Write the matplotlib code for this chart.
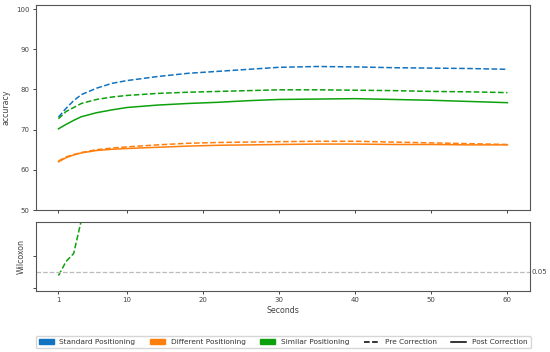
import numpy as np
import matplotlib.pyplot as plt
from matplotlib.patches import Patch
from matplotlib.lines import Line2D

secs = [1, 2, 3, 4, 6, 8, 10, 14, 18, 22, 26, 30, 35, 40, 45, 50, 55, 60]

standard_pre = [73.1, 75.3, 77.2, 78.7, 80.3, 81.5, 82.2, 83.2, 84.0, 84.5, 85.0, 85.5, 85.7, 85.6, 85.4, 85.3, 85.2, 85.0]
different_pre = [62.2, 63.2, 63.8, 64.3, 65.0, 65.4, 65.7, 66.2, 66.6, 66.8, 66.9, 67.0, 67.1, 67.1, 66.9, 66.7, 66.5, 66.3]
different_post = [62.0, 63.0, 63.7, 64.2, 64.8, 65.1, 65.3, 65.6, 65.9, 66.1, 66.2, 66.3, 66.4, 66.4, 66.3, 66.3, 66.2, 66.2]
similar_pre = [72.7, 74.5, 75.5, 76.5, 77.5, 78.1, 78.5, 79.0, 79.3, 79.5, 79.7, 79.9, 79.9, 79.8, 79.7, 79.5, 79.4, 79.2]
similar_post = [70.2, 71.3, 72.3, 73.2, 74.2, 74.9, 75.5, 76.1, 76.5, 76.8, 77.2, 77.5, 77.6, 77.7, 77.5, 77.3, 77.0, 76.7]

wil_secs = [1, 2, 3, 4]
wil_p = [0.038, 0.082, 0.107, 0.21]

xticks = [1, 10, 20, 30, 40, 50, 60]

c_std = '#1273c0'
c_diff = '#ff7f0e'
c_sim = '#0da10d'
grey = '#444444'

plt.rcParams['font.family'] = 'DejaVu Sans'

fig = plt.figure(figsize=(5.5, 3.52), dpi=100)
ax = fig.add_axes([0.0655, 0.4034, 0.898, 0.5824])
ax2 = fig.add_axes([0.0655, 0.1733, 0.898, 0.1952], sharex=ax)

lw = 1.1
ax.plot(secs, standard_pre, '--', color=c_std, lw=lw)
ax.plot(secs, different_pre, '--', color=c_diff, lw=lw)
ax.plot(secs, different_post, '-', color=c_diff, lw=lw)
ax.plot(secs, similar_pre, '--', color=c_sim, lw=lw)
ax.plot(secs, similar_post, '-', color=c_sim, lw=lw)
ax.set_ylim(50, 101)
ax.set_yticks([50, 60, 70, 80, 90, 100])
ax.set_ylabel('accuracy', fontsize=5.7, color=grey, labelpad=4)
ax.tick_params(labelbottom=False)

ax2.plot(wil_secs, wil_p, '--', color=c_sim, lw=lw)
ax2.axhline(0.05, color='#bbbbbb', ls='--', lw=0.9)
ax2.text(1.003, 0.05, '0.05', transform=ax2.get_yaxis_transform(), va='center', ha='left',
         fontsize=5, color=grey)
ax2.set_ylim(-0.01, 0.204)
ax2.set_yticks([0.0, 0.1])
ax2.set_yticklabels([])
ax2.set_ylabel('Wilcoxon', fontsize=5.7, color=grey, labelpad=3)
ax2.set_xlabel('Seconds', fontsize=5.7, color=grey, labelpad=2)
ax2.set_xticks(xticks)
ax2.set_xlim(-1.95, 62.95)

for a in (ax, ax2):
    a.tick_params(labelsize=5, colors=grey, length=2.5, width=0.7, pad=2)
    for s in a.spines.values():
        s.set_color('#555555')
        s.set_linewidth(0.8)

handles = [Patch(color=c_std, label='Standard Positioning'),
           Patch(color=c_diff, label='Different Positioning'),
           Patch(color=c_sim, label='Similar Positioning'),
           Line2D([], [], color='black', ls='--', lw=1.1, label='Pre Correction'),
           Line2D([], [], color='black', ls='-', lw=1.1, label='Post Correction')]
leg = fig.legend(handles=handles, loc='center', bbox_to_anchor=(0.515, 0.028), ncol=5,
                 fontsize=5.3, frameon=True, handleheight=0.6)
for t in leg.get_texts():
    t.set_color('#333333')

fig.savefig('out.png', dpi=100)
